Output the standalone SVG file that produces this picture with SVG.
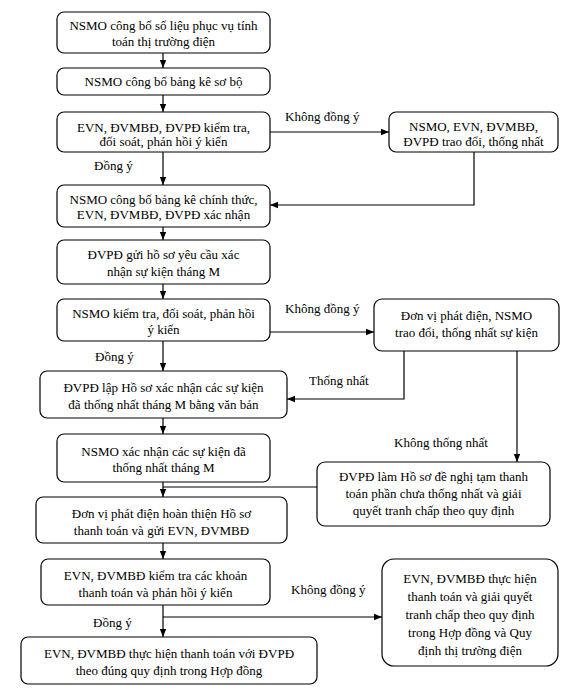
<svg xmlns="http://www.w3.org/2000/svg" width="575" height="694" viewBox="0 0 575 694">
<defs>
<marker id="ah" markerUnits="userSpaceOnUse" markerWidth="8" markerHeight="8" viewBox="0 0 8 8" refX="8" refY="4" orient="auto">
<path d="M0,0.8 L8,4 L0,7.2 Z" fill="#000"/>
</marker>
<style>
.box{fill:#fff;stroke:#000;stroke-width:1.2}
.t{font-family:"Liberation Serif","Times New Roman",serif;font-size:13px;fill:#000;text-anchor:middle}
.l{font-family:"Liberation Serif","Times New Roman",serif;font-size:13px;fill:#000}
.c{fill:none;stroke:#000;stroke-width:1.2}
.a{marker-end:url(#ah)}
</style>
</defs>
<rect width="575" height="694" fill="#fff"/>
<g id="connectors">
<line class="c a" x1="163" y1="53" x2="163" y2="68"/>
<line class="c a" x1="163" y1="95" x2="163" y2="112"/>
<line class="c a" x1="163" y1="152" x2="163" y2="185"/>
<line class="c a" x1="163" y1="227" x2="163" y2="240"/>
<line class="c a" x1="163" y1="284" x2="163" y2="299"/>
<line class="c a" x1="163" y1="341" x2="163" y2="371"/>
<line class="c a" x1="163" y1="418" x2="163" y2="434"/>
<line class="c a" x1="163" y1="482" x2="163" y2="497"/>
<line class="c a" x1="163" y1="543" x2="163" y2="559"/>
<line class="c a" x1="163" y1="605" x2="163" y2="637"/>
<line class="c a" x1="270" y1="132" x2="389" y2="132"/>
<polyline class="c a" points="474,152 474,205 270,205"/>
<line class="c a" x1="270" y1="332" x2="374" y2="332"/>
<polyline class="c a" points="404,351 404,399 287,399"/>
<line class="c a" x1="517" y1="351" x2="517" y2="462"/>
<line class="c" x1="317" y1="487" x2="163" y2="487"/>
<line class="c a" x1="163" y1="617" x2="382" y2="617"/>
<text class="l" x="285" y="121">Không đồng ý</text>
<text class="l" x="94" y="170">Đồng ý</text>
<text class="l" x="285" y="313">Không đồng ý</text>
<text class="l" x="95" y="361">Đồng ý</text>
<text class="l" x="309" y="385">Thống nhất</text>
<text class="l" x="394" y="447">Không thống nhất</text>
<text class="l" x="291" y="594">Không đồng ý</text>
<text class="l" x="93" y="627">Đồng ý</text>
</g>
<g id="b1"><rect class="box" x="57" y="12" width="213" height="41" rx="7"/>
<text class="t" x="163.5" y="30">NSMO công bố số liệu phục vụ tính</text>
<text class="t" x="163.5" y="46">toán thị trường điện</text></g>
<g id="b2"><rect class="box" x="57" y="68" width="213" height="27" rx="7"/>
<text class="t" x="163.5" y="86">NSMO công bố bảng kê sơ bộ</text></g>
<g id="b3"><rect class="box" x="57" y="112" width="213" height="40" rx="7"/>
<text class="t" x="163.5" y="132">EVN, ĐVMBĐ, ĐVPĐ kiểm tra,</text>
<text class="t" x="163.5" y="146">đối soát, phản hồi ý kiến</text></g>
<g id="r1"><rect class="box" x="389" y="112" width="169" height="40" rx="7"/>
<text class="t" x="473.5" y="131">NSMO, EVN, ĐVMBĐ,</text>
<text class="t" x="473.5" y="146">ĐVPĐ trao đổi, thống nhất</text></g>
<g id="b4"><rect class="box" x="57" y="185" width="213" height="42" rx="7"/>
<text class="t" x="163.5" y="204">NSMO công bố bảng kê chính thức,</text>
<text class="t" x="163.5" y="219">EVN, ĐVMBĐ, ĐVPĐ xác nhận</text></g>
<g id="b5"><rect class="box" x="57" y="240" width="213" height="44" rx="7"/>
<text class="t" x="163.5" y="259">ĐVPĐ gửi hồ sơ yêu cầu xác</text>
<text class="t" x="163.5" y="276">nhận sự kiện tháng M</text></g>
<g id="b6"><rect class="box" x="57" y="299" width="213" height="42" rx="7"/>
<text class="t" x="163.5" y="318">NSMO kiểm tra, đối soát, phản hồi</text>
<text class="t" x="163.5" y="334">ý kiến</text></g>
<g id="r2"><rect class="box" x="374" y="299" width="185" height="52" rx="8"/>
<text class="t" x="466.5" y="320">Đơn vị phát điện, NSMO</text>
<text class="t" x="466.5" y="337">trao đổi, thống nhất sự kiện</text></g>
<g id="b7"><rect class="box" x="40" y="371" width="247" height="47" rx="7"/>
<text class="t" x="163.5" y="392">ĐVPĐ lập Hồ sơ xác nhận các sự kiện</text>
<text class="t" x="163.5" y="409">đã thống nhất tháng M bằng văn bản</text></g>
<g id="b8"><rect class="box" x="57" y="434" width="213" height="48" rx="7"/>
<text class="t" x="163.5" y="456">NSMO xác nhận các sự kiện đã</text>
<text class="t" x="163.5" y="472">thống nhất tháng M</text></g>
<g id="r3"><rect class="box" x="317" y="462" width="233" height="64" rx="8"/>
<text class="t" x="433.5" y="481">ĐVPĐ làm Hồ sơ đề nghị tạm thanh</text>
<text class="t" x="433.5" y="498">toán phần chưa thống nhất và giải</text>
<text class="t" x="433.5" y="515">quyết tranh chấp theo quy định</text></g>
<g id="b9"><rect class="box" x="36" y="497" width="251" height="46" rx="7"/>
<text class="t" x="161.5" y="518">Đơn vị phát điện hoàn thiện Hồ sơ</text>
<text class="t" x="161.5" y="535">thanh toán và gửi EVN, ĐVMBĐ</text></g>
<g id="b10"><rect class="box" x="41" y="559" width="229" height="46" rx="7"/>
<text class="t" x="155.5" y="580">EVN, ĐVMBĐ kiểm tra các khoản</text>
<text class="t" x="155.5" y="597">thanh toán và phản hồi ý kiến</text></g>
<g id="b11"><rect class="box" x="21" y="637" width="296" height="47" rx="7"/>
<text class="t" x="169" y="658">EVN, ĐVMBĐ thực hiện thanh toán với ĐVPĐ</text>
<text class="t" x="169" y="675">theo đúng quy định trong Hợp đồng</text></g>
<g id="r4"><rect class="box" x="382" y="559" width="176" height="107" rx="12"/>
<text class="t" x="470" y="583">EVN, ĐVMBĐ thực hiện</text>
<text class="t" x="470" y="601">thanh toán và giải quyết</text>
<text class="t" x="470" y="619">tranh chấp theo quy định</text>
<text class="t" x="470" y="637">trong Hợp đồng và Quy</text>
<text class="t" x="470" y="655">định thị trường điện</text></g>
</svg>
